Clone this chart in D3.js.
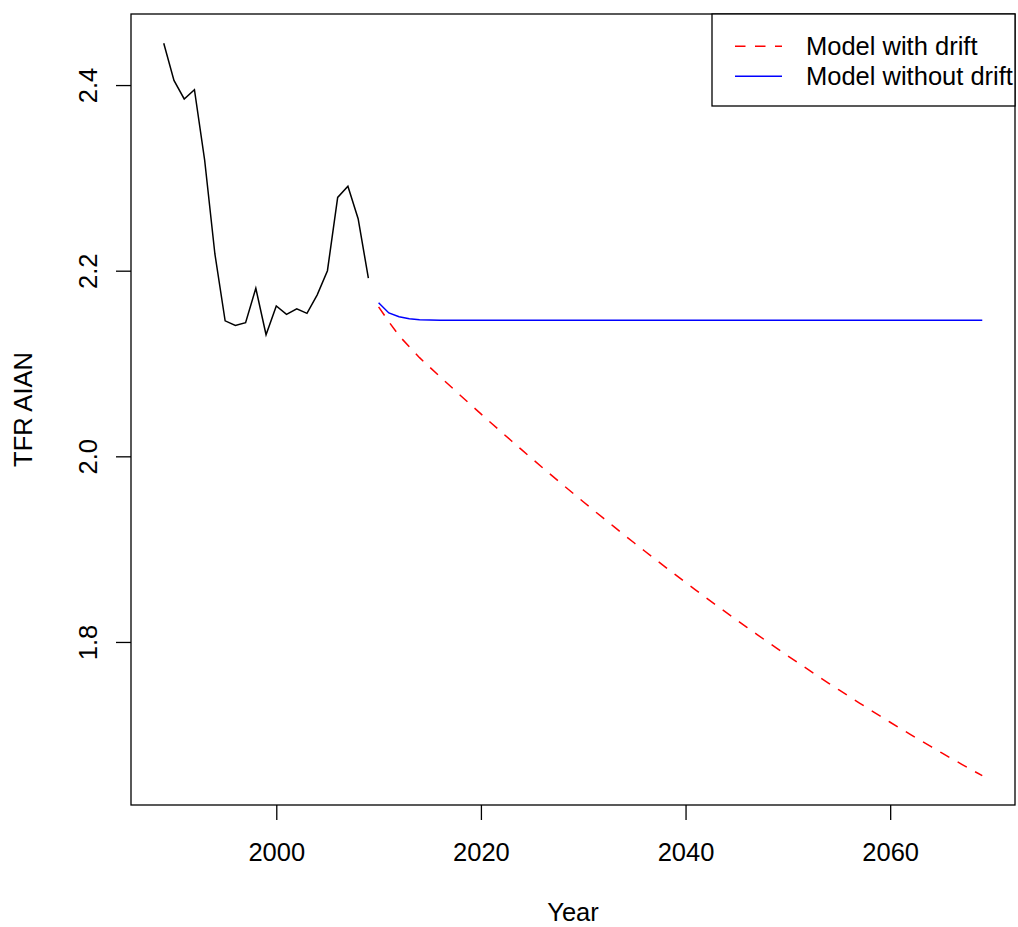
<!DOCTYPE html>
<html>
<head>
<meta charset="utf-8">
<script src="https://cdn.jsdelivr.net/npm/d3@7"></script>
<style>
  html, body { margin: 0; padding: 0; background: #fff; }
  svg text { font-family: "Liberation Sans", Arial, Helvetica, sans-serif; fill: #000; }
</style>
</head>
<body>
<svg id="chart" width="1018" height="927"></svg>
<script>
// ---- data ----
const obsYears = d3.range(1989, 2010);
const obsTFR = [2.445, 2.405, 2.385, 2.395, 2.319, 2.218, 2.146, 2.141, 2.144, 2.181,
                2.131, 2.162, 2.153, 2.159, 2.154, 2.174, 2.200, 2.279, 2.291, 2.256, 2.192];

const fcYears = d3.range(2010, 2070);
const driftTFR = [2.161, 2.145, 2.130, 2.118, 2.1063, 2.0960, 2.0858, 2.0757, 2.0656, 2.0556,
                  2.0457, 2.0359, 2.0262, 2.0165, 2.0069, 1.9974, 1.9880, 1.9786, 1.9694, 1.9602,
                  1.9511, 1.9420, 1.9331, 1.9242, 1.9153, 1.9066, 1.8980, 1.8894, 1.8809, 1.8725,
                  1.8641, 1.8559, 1.8477, 1.8396, 1.8316, 1.8236, 1.8157, 1.8079, 1.8002, 1.7925,
                  1.7850, 1.7775, 1.7701, 1.7627, 1.7555, 1.7483, 1.7412, 1.7342, 1.7272, 1.7203,
                  1.7135, 1.7068, 1.7002, 1.6936, 1.6872, 1.6807, 1.6744, 1.6682, 1.6620, 1.6559];
const noDriftTFR = [2.1655, 2.1545, 2.1503, 2.1482, 2.1472, 2.1468, 2.1466, 2.1465, 2.1465, 2.1465,
                    2.1465, 2.1465, 2.1465, 2.1465, 2.1465, 2.1465, 2.1465, 2.1465, 2.1465, 2.1465,
                    2.1465, 2.1465, 2.1465, 2.1465, 2.1465, 2.1465, 2.1465, 2.1465, 2.1465, 2.1465,
                    2.1465, 2.1465, 2.1465, 2.1465, 2.1465, 2.1465, 2.1465, 2.1465, 2.1465, 2.1465,
                    2.1465, 2.1465, 2.1465, 2.1465, 2.1465, 2.1465, 2.1465, 2.1465, 2.1465, 2.1465,
                    2.1465, 2.1465, 2.1465, 2.1465, 2.1465, 2.1465, 2.1465, 2.1465, 2.1465, 2.1465];

const xTicks = [2000, 2020, 2040, 2060];
const yTicks = [1.8, 2.0, 2.2, 2.4];
const yTickLabels = ["1.8", "2.0", "2.2", "2.4"];
const legendLabels = ["Model with drift", "Model without drift"];
const legendColors = ["#ff0000", "#0000ff"];

// ---- layout ----
const L = 131, R = 1015, T = 14, B = 805;
const FS = 25.5;

function expand(ext) { const d = (ext[1] - ext[0]) * 0.04; return [ext[0] - d, ext[1] + d]; }
const allX = obsYears.concat(fcYears);
const allY = obsTFR.concat(driftTFR, noDriftTFR);

const x = d3.scaleLinear().domain(expand(d3.extent(allX))).range([L, R]);
const y = d3.scaleLinear().domain(expand(d3.extent(allY))).range([B, T]);

const svg = d3.select("#chart");

// plot lines
const line = d3.line().x(d => x(d[0])).y(d => y(d[1]));

svg.append("path")
  .datum(obsYears.map((yr, i) => [yr, obsTFR[i]]))
  .attr("d", line).attr("fill", "none").attr("stroke", "#000").attr("stroke-width", 1.5);

svg.append("path")
  .datum(fcYears.map((yr, i) => [yr, driftTFR[i]]))
  .attr("d", line).attr("fill", "none").attr("stroke", legendColors[0])
  .attr("stroke-width", 1.5).attr("stroke-dasharray", "10.5,9.5");

svg.append("path")
  .datum(fcYears.map((yr, i) => [yr, noDriftTFR[i]]))
  .attr("d", line).attr("fill", "none").attr("stroke", legendColors[1]).attr("stroke-width", 1.5);

// box
svg.append("rect").attr("x", L).attr("y", T).attr("width", R - L).attr("height", B - T)
  .attr("fill", "none").attr("stroke", "#000").attr("stroke-width", 1.3);

// x axis
const xAxis = d3.axisBottom(x).tickValues(xTicks).tickSize(15).tickPadding(21).tickFormat(d3.format("d"));
const gx = svg.append("g").attr("transform", `translate(0,${B})`).call(xAxis);
gx.select(".domain").remove();
gx.selectAll("line").attr("stroke", "#000").attr("stroke-width", 1.3);
gx.selectAll("text").attr("font-size", FS).attr("font-family", "Liberation Sans, Arial, sans-serif")
  .attr("dy", null).attr("y", 56).attr("fill", "#000");

// y axis
const yAxis = d3.axisLeft(y).tickValues(yTicks).tickSize(15).tickFormat((d, i) => yTickLabels[i]);
const gy = svg.append("g").attr("transform", `translate(${L},0)`).call(yAxis);
gy.select(".domain").remove();
gy.selectAll("line").attr("stroke", "#000").attr("stroke-width", 1.3);
gy.selectAll("text").attr("font-size", FS).attr("font-family", "Liberation Sans, Arial, sans-serif")
  .attr("fill", "#000").attr("dy", null).attr("x", null).attr("y", null)
  .attr("text-anchor", "middle")
  .attr("transform", `translate(${96.7 - L},0) rotate(-90)`);

// axis titles
svg.append("text").attr("x", (L + R) / 2).attr("y", 921).attr("text-anchor", "middle")
  .attr("font-size", FS).text("Year");
svg.append("text").attr("text-anchor", "middle").attr("font-size", FS)
  .attr("transform", `translate(32.3,${(T + B) / 2}) rotate(-90)`).text("TFR AIAN");

// legend
const lg = svg.append("g");
lg.append("rect").attr("x", 712).attr("y", T).attr("width", R - 712).attr("height", 106 - T)
  .attr("fill", "#fff").attr("stroke", "#000").attr("stroke-width", 1.3);
const rowsY = [46.3, 76.3];
legendLabels.forEach((lab, i) => {
  lg.append("line").attr("x1", 735).attr("x2", 782).attr("y1", rowsY[i]).attr("y2", rowsY[i])
    .attr("stroke", legendColors[i]).attr("stroke-width", 1.5)
    .attr("stroke-dasharray", i === 0 ? "10.5,9.5" : null);
  lg.append("text").attr("x", 806).attr("y", rowsY[i] + 9).attr("font-size", FS).text(lab);
});
</script>
</body>
</html>
